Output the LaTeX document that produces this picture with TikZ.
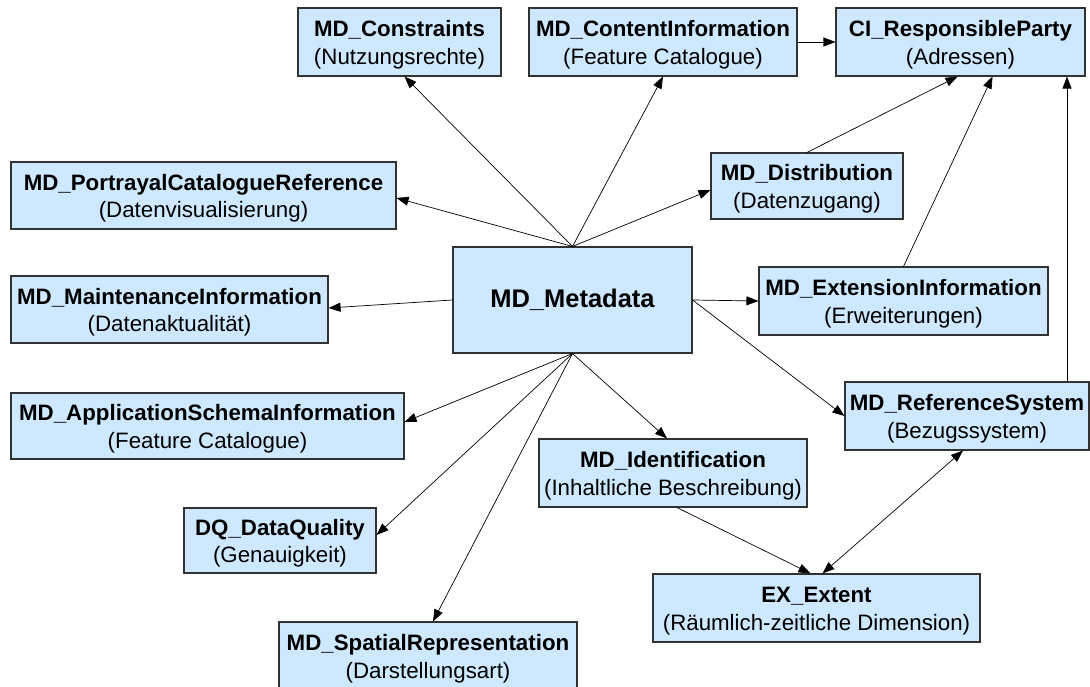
\documentclass[tikz,border=0pt]{standalone}
\usepackage{fontspec}
\setmainfont{Liberation Sans}
\usetikzlibrary{arrows.meta}
\definecolor{boxfill}{RGB}{206,233,255}
\definecolor{boxline}{RGB}{50,50,50}
\tikzset{
  cls/.style={draw=boxline, line width=1.1pt, fill=boxfill, inner sep=0pt,
    align=center, font=\fontsize{22.3}{27.5}\selectfont, text=black},
  arr/.style={draw=black, line width=0.7pt, -{Triangle[length=12pt,width=9pt]}},
  dbl/.style={draw=black, line width=0.7pt, {Triangle[length=12pt,width=9pt]}-{Triangle[length=12pt,width=9pt]}}
}
% class box text: bold name over a plain remark
\newcommand{\cls}[2]{\rule{0pt}{22pt}\textbf{#1}\\#2}
\begin{document}
\begin{tikzpicture}[x=1pt,y=-1pt]
  \fill[white] (0,0) rectangle (1090,687);
  \useasboundingbox (0,0) rectangle (1090,687);

  % classes
  \node[cls, minimum width=203, minimum height=68] (cons) at (399.5,42) {\cls{MD\_Constraints}{(Nutzungsrechte)}};
  \node[cls, minimum width=268, minimum height=68] (cont) at (663,42) {\cls{MD\_ContentInformation}{(Feature Catalogue)}};
  \node[cls, minimum width=249, minimum height=68] (ci) at (960.5,42) {\cls{CI\_ResponsibleParty}{(Adressen)}};
  \node[cls, minimum width=385, minimum height=67] (port) at (203.5,195.5) {\cls{MD\_PortrayalCatalogueReference}{(Datenvisualisierung)}};
  \node[cls, minimum width=192, minimum height=66] (dist) at (807,186) {\cls{MD\_Distribution}{(Datenzugang)}};
  \node[cls, minimum width=317, minimum height=67] (maint) at (169.5,309.5) {\cls{MD\_MaintenanceInformation}{(Datenaktualität)}};
  \node[cls, minimum width=239, minimum height=106, font=\fontsize{25.5}{28}\selectfont\bfseries] (md) at (572.5,300) {MD\_Metadata};
  \node[cls, minimum width=289, minimum height=68] (ext) at (903.5,301) {\cls{MD\_ExtensionInformation}{(Erweiterungen)}};
  \node[cls, minimum width=393, minimum height=66] (app) at (207.5,426) {\cls{MD\_ApplicationSchemaInformation}{(Feature Catalogue)}};
  \node[cls, minimum width=244, minimum height=68] (ref) at (967,416) {\cls{MD\_ReferenceSystem}{(Bezugssystem)}};
  \node[cls, minimum width=268, minimum height=68] (ident) at (673,473) {\cls{MD\_Identification}{(Inhaltliche Beschreibung)}};
  \node[cls, minimum width=192, minimum height=65] (dq) at (280,540.5) {\cls{DQ\_DataQuality}{(Genauigkeit)}};
  \node[cls, minimum width=327, minimum height=68] (extent) at (816.5,608) {\cls{EX\_Extent}{(Räumlich-zeitliche Dimension)}};
  \node[cls, minimum width=298, minimum height=68] (spat) at (428,656) {\cls{MD\_SpatialRepresentation}{(Darstellungsart)}};

  % associations from MD_Metadata
  \draw[arr] (md.north) -- ([xshift=5pt]cons.south);
  \draw[arr] (md.north) -- (cont.south);
  \draw[arr] (md.north) -- ([yshift=-2.5pt]port.east);
  \draw[arr] (md.north) -- ([yshift=-4pt]dist.west);
  \draw[arr] (md.west) -- ([yshift=1.5pt]maint.east);
  \draw[arr] (md.east) -- (ext.west);
  \draw[arr] (md.east) -- (ref.west);
  \draw[arr] (md.south) -- ([yshift=4pt]app.east);
  \draw[arr] (md.south) -- ([yshift=5.5pt]dq.east);
  \draw[arr] (md.south) -- ([xshift=5pt]spat.north);
  \draw[arr] (md.south) -- ([xshift=-6pt]ident.north);

  % further associations
  \draw[arr] (cont.east) -- (ci.west);
  \draw[arr] (dist.north) -- ([xshift=-3pt]ci.south);
  \draw[arr] (ext.north) -- ([xshift=32pt]ci.south);
  \draw[arr] ([xshift=100pt]ref.north) -- ([xshift=100pt]ref.north |- ci.south);
  \draw[arr] ([xshift=4pt]ident.south) -- ([xshift=-6pt]extent.north);
  \draw[dbl] ([xshift=6pt]extent.north) -- ([xshift=-4pt]ref.south);
\end{tikzpicture}
\end{document}
